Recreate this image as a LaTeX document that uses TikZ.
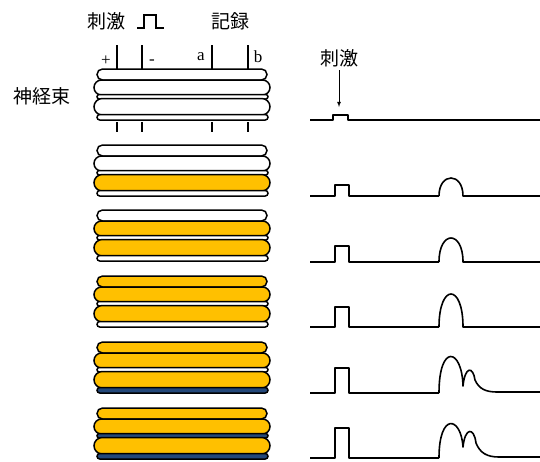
\documentclass[tikz,border=0pt]{standalone}
\usepackage{fontspec}
\setmainfont{Liberation Serif}
\newfontfamily\jpfont{Noto Sans CJK JP}
\definecolor{axon}{HTML}{FFC000}
\definecolor{slow}{HTML}{24487A}

% one fibre: x from #1 to #2, y from #3 to #4, fill #5
\newcommand{\fiber}[5]{%
  \pgfmathsetmacro\fr{((#4)-(#3))/2}
  \filldraw[fibre,fill=#5,rounded corners=\fr pt] (#1,#3) rectangle (#2,#4);
}
% a bundle of five fibres with its top edge at #1
\newcommand{\nervebundle}[6]{%
  \fiber{97}{267}{#1}{#1+11}{#2}
  \fiber{94}{270}{#1+11}{#1+26}{#3}
  \fiber{97}{268}{#1+25.5}{#1+30}{#4}
  \fiber{94}{270}{#1+29.5}{#1+46}{#5}
  \fiber{97}{268}{#1+45.5}{#1+51}{#6}
}
% baseline at #1, stimulus artefact of height #2
\newcommand{\sweep}[2]{%
  \draw[trace] (310,#1) -- (335,#1) -- (335,#1-#2) -- (349,#1-#2) -- (349,#1) -- (439,#1);
}

\begin{document}
\begin{tikzpicture}[x=1pt,y=-1pt,
    fibre/.style={draw=black,line width=1.5pt},
    trace/.style={line width=1.6pt,line join=round},
    electrode/.style={line width=1.3pt},
    jp/.style={font=\jpfont\fontsize{19}{19}\selectfont},
    sign/.style={font=\fontsize{17}{17}\selectfont,inner sep=0pt}]
    \useasboundingbox (0,0) rectangle (540,461);

    % labels
    \node[jp] (stimlbl) at (106,21) {刺激};
    \node[jp] (reclbl) at (230,21) {記録};
    \node[jp] (bundlelbl) at (42,96) {神経束};
    \draw[line width=2.2pt] (137,28) -- (144,28) -- (144,15) -- (156,15) -- (156,28) -- (164,28);

    % electrodes
    \foreach \ex in {117,142,212,248} {
      \draw[electrode] (\ex,45) -- (\ex,69);
      \draw[electrode] (\ex,122) -- (\ex,132);
    }
    \node[sign] (plus) at (106,61) {+};
    \node[sign] (minus) at (152,62) {-};
    \node[sign] (ea) at (201,57) {a};
    \node[sign] (eb) at (258,57) {b};

    % bundles, more fibres recruited going down
    \nervebundle{69}{white}{white}{white}{white}{white}
    \nervebundle{145}{white}{white}{white}{axon}{white}
    \nervebundle{210}{white}{axon}{white}{axon}{white}
    \nervebundle{276}{axon}{axon}{white}{axon}{white}
    \nervebundle{342}{axon}{axon}{white}{axon}{slow}
    \nervebundle{408}{axon}{axon}{slow}{axon}{slow}

    % recordings
    \node[jp] (stimmark) at (339,58) {刺激};
    \coordinate (stimtip) at (339,107);
    \draw[-latex,line width=0.8pt] (stimmark) -- (stimtip);
    \draw[trace] (310,120) -- (333,120) -- (333,115) -- (348,115) -- (348,120) -- (540,120);

    \sweep{196}{11}
    \draw[trace] (439,196) .. controls (439,172) and (463,172) .. (463,196) -- (540,196);
    \sweep{262}{16}
    \draw[trace] (439,262) .. controls (439,230) and (463,230) .. (463,262) -- (540,262);
    \sweep{327}{20}
    \draw[trace] (439,327) .. controls (439,283) and (463,283) .. (463,327) -- (540,327);
    \sweep{393}{25}
    \draw[trace] (439,393) .. controls (439,343) and (462,348) .. (463,386)
      .. controls (465,366) and (473,366) .. (475,380)
      .. controls (479,389) and (486,392) .. (497,392) -- (540,392);
    \sweep{458}{30}
    \draw[trace] (439,458) .. controls (439,412) and (461,416) .. (463,447)
      .. controls (465,427) and (474,427) .. (476,443)
      .. controls (480,453) and (487,457) .. (499,457) -- (540,457);
\end{tikzpicture}
\end{document}
